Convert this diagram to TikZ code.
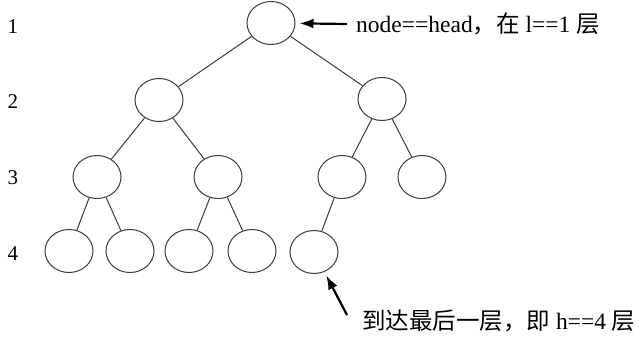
\documentclass[tikz,border=0pt]{standalone}
\usepackage{fontspec}
\setmainfont{Liberation Serif}
\newfontfamily\cjk{Noto Sans CJK SC}
\usetikzlibrary{arrows.meta,shapes.geometric}
\definecolor{TreeGray}{RGB}{60,60,60}

\begin{document}
\begin{tikzpicture}[x=1pt,y=-1pt,>={Latex[length=14pt,width=10pt]},every node/.style={font=\fontsize{21}{25}\selectfont}]
\tikzset{tnode/.style={ellipse,draw=TreeGray,line width=1pt,minimum width=48pt,minimum height=43pt,inner sep=0pt},
  edge/.style={draw=TreeGray,line width=1pt},
  note/.style={anchor=west,inner sep=0pt,font=\fontsize{23.5}{28}\selectfont},
  pointer/.style={->,line width=2.2pt,shorten >=4pt}}
\useasboundingbox (0,0) rectangle (641,337);
% level numbers
\node (l1) at (13,27) {1};
\node (l2) at (13,102) {2};
\node (l3) at (13,178) {3};
\node (l4) at (13,254) {4};
% tree
\node[tnode] (root) at (271,23) {};
\node[tnode] (a) at (159,100) {};
\node[tnode] (b) at (382,99) {};
\node[tnode] (c) at (97,177) {};
\node[tnode] (d) at (218,177) {};
\node[tnode] (e) at (342,177) {};
\node[tnode] (f) at (422,177) {};
\node[tnode] (g) at (69,251) {};
\node[tnode] (h) at (130,251) {};
\node[tnode] (i) at (189,251) {};
\node[tnode] (j) at (252,251) {};
\node[tnode] (k) at (314,252) {};
\draw[edge](root)--(a); \draw[edge](root)--(b); \draw[edge](a)--(c); \draw[edge](a)--(d);
\draw[edge](b)--(e); \draw[edge](b)--(f); \draw[edge](c)--(g); \draw[edge](c)--(h);
\draw[edge](d)--(i); \draw[edge](d)--(j); \draw[edge](e)--(k);
% notes
\node[note] (headnote) at (356,24) {node==head{\cjk ，在} l==1 {\cjk 层}};
\draw[pointer] ([xshift=-9pt]headnote.west) -- (root);
\node[note] (lastnote) at (362,321) {{\cjk 到达最后一层，即} h==4 {\cjk 层}};
\coordinate (tail) at (347,315);
\draw[pointer] (tail) -- (k);
\end{tikzpicture}
\end{document}
